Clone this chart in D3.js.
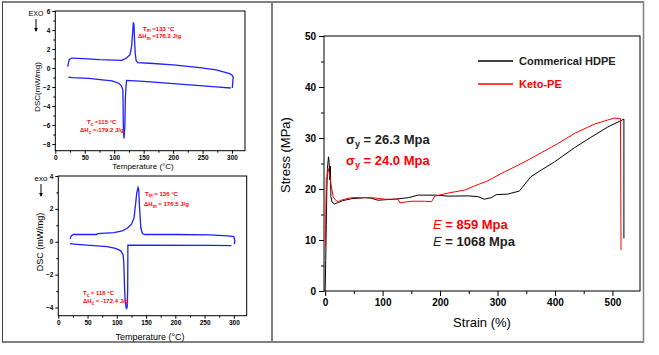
<!DOCTYPE html>
<html><head><meta charset="utf-8">
<script src="https://cdn.jsdelivr.net/npm/d3@7"></script>
<style>body{margin:0;background:#fff}svg{display:block}</style>
</head><body>
<svg id="c" width="659" height="355"></svg>
<script>
// ---- Tensile data (strain %, stress MPa)
const hdpeCurve = [[0,0],[1,6],[2,13],[3,20],[4,24],[5.8,26.3],[7,25.2],[8,21.8],[9,24.5],[10,18.5],[12,17.4],[16,17.1],[22,17.3],[30,17.7],[46,18.1],[70,18.3],[80,18.2],[92,17.8],[105,17.9],[121,18.0],[145,18.3],[162,18.8],[191,18.8],[214,18.6],[249,18.65],[266,18.5],[277,18.0],[289,18.3],[298,18.9],[318,19.0],[338,19.6],[358,22.4],[376,23.7],[399,25.3],[434,28.1],[462,30.1],[491,32.1],[520,33.7],[520,10.3]];
const ketoCurve = [[0.5,8.6],[1,15],[2,22.2],[3,22.4],[5.5,24.0],[7,23.2],[10,21.0],[14,18.5],[18,17.8],[23,17.5],[30,17.9],[46,18.3],[81,18.3],[104,18.0],[127,18.0],[130,17.3],[150,17.6],[173,17.6],[185,17.5],[191,18.6],[214,19.2],[243,19.8],[260,20.6],[283,21.6],[306,23.0],[347,25.3],[376,27.1],[405,28.9],[434,30.9],[457,32.1],[468,32.7],[491,33.5],[503,33.9],[514,33.8],[515,8.0]];
const seriesNames = ["Commerical HDPE","Keto-PE"];
const strainTicks = [0,100,200,300,400,500];
const stressTicks = [0,10,20,30,40,50];

// ---- DSC data (temperature °C, DSC mW/mg)
const dsc1Heat = [[21,0.14],[23.7,0.9],[27.7,1.05],[47.9,0.98],[75,0.88],[112.7,0.81],[121,1.05],[126.8,1.4],[129.6,2.3],[131.3,3.7],[132.5,4.8],[133.5,4.6],[134.5,3.0],[135.6,1.6],[137.3,0.74],[140,0.56],[160,0.5],[200,0.33],[245,0.05],[273,-0.2],[296,-0.6],[300,-0.75],[302,-0.95],[301,-1.6],[300.5,-2.1]];
const dsc1Cool = [[297.7,-2.1],[278,-2.0],[245,-1.85],[189,-1.6],[150,-1.4],[121,-1.3],[120,-2.0],[119,-3.1],[118,-6.2],[116.6,-7.4],[115.5,-6.2],[115,-3.5],[114.6,-2.3],[112,-1.85],[107.6,-1.6],[96.5,-1.35],[79.5,-1.25],[57,-1.1],[29,-1.0],[22,-0.95]];
const dsc2Heat = [[20.1,0.16],[22,0.36],[26,0.44],[66,0.44],[67,0.5],[95,0.55],[109.3,0.66],[118,0.82],[124.8,1.05],[129.4,1.45],[132,2.25],[134,2.96],[136.3,3.3],[137.5,3.16],[138.6,2.25],[141,0.85],[143.7,0.5],[147.8,0.44],[200,0.44],[258.7,0.42],[290,0.36],[300,0.32],[301.8,0.06],[300.6,-0.14]];
const dsc2Cool = [[296,-0.24],[260,-0.22],[118.9,-0.2],[118.9,-0.54],[118.6,-2.9],[117.8,-3.95],[116.5,-4.1],[114.5,-3.7],[113.3,-2.9],[112,-1.3],[110.9,-0.8],[106.4,-0.54],[97.8,-0.4],[83.4,-0.3],[48.9,-0.2],[26,-0.14],[20,-0.12]];
const tempTicks = [0,50,100,150,200,250,300];
const dsc1Ticks = [6,4,2,0,-2,-4,-6,-8];
const dsc2Ticks = [4,2,0,-2,-4];

const svg = d3.select("#c");
const F = "Arial, 'Liberation Sans', sans-serif";

// ---- outer frame
const frame = svg.append("g");
frame.append("line").attr("x1",2).attr("x2",644).attr("y1",2).attr("y2",2).attr("stroke","#808080").attr("stroke-width",2);
frame.append("line").attr("x1",2).attr("x2",644).attr("y1",342).attr("y2",342).attr("stroke","#808080").attr("stroke-width",2);
frame.append("line").attr("x1",2.5).attr("x2",2.5).attr("y1",2).attr("y2",342).attr("stroke","#404040").attr("stroke-width",1);
frame.append("line").attr("x1",643.5).attr("x2",643.5).attr("y1",2).attr("y2",342).attr("stroke","#808080").attr("stroke-width",1.5);
frame.append("line").attr("x1",272).attr("x2",272).attr("y1",2).attr("y2",342).attr("stroke","#808080").attr("stroke-width",2);

function boxAxes(g, x, y, xt, xMinor, yt, yMinor, fs, tl, tlm, xpad, ypad) {
  const [x0,x1] = x.range(), [y0,y1] = y.range();
  g.append("rect").attr("x",x0).attr("y",y1).attr("width",x1-x0).attr("height",y0-y1)
    .attr("fill","none").attr("stroke","#000").attr("stroke-width",1);
  const xa = d3.axisBottom(x).tickValues(xt).tickSize(tl).tickPadding(xpad).tickFormat(d3.format("d"));
  const xm = d3.axisBottom(x).tickValues(xMinor).tickSize(tlm).tickFormat("");
  const ya = d3.axisLeft(y).tickValues(yt).tickSize(tl).tickPadding(ypad).tickFormat(d3.format("d"));
  const ym = d3.axisLeft(y).tickValues(yMinor).tickSize(tlm).tickFormat("");
  [ [xa,`translate(0,${y0})`], [xm,`translate(0,${y0})`], [ya,`translate(${x0},0)`], [ym,`translate(${x0},0)`] ].forEach(([a,t])=>{
    const ag = g.append("g").attr("transform",t).call(a);
    ag.select(".domain").remove();
    ag.selectAll("line").attr("stroke","#000");
    ag.selectAll("text").attr("font-family",F).attr("font-weight","bold").attr("font-size",fs).attr("fill","#000");
  });
}

// ================= Right: tensile chart
const xs = d3.scaleLinear().domain([-2,548]).range([324,640]);
const ys = d3.scaleLinear().domain([0,50]).range([291,36]);
const gR = svg.append("g");
boxAxes(gR, xs, ys, strainTicks, [50,150,250,350,450], stressTicks, [5,15,25,35,45], 10, 5, 3, 3, 3);
const line = d3.line().x(d=>xs(d[0])).y(d=>ys(d[1]));
gR.append("path").datum(hdpeCurve).attr("d",line).attr("fill","none").attr("stroke","#000").attr("stroke-width",1);
gR.append("path").datum(ketoCurve).attr("d",line).attr("fill","none").attr("stroke","#ff0000").attr("stroke-width",1);
gR.append("text").attr("x",482).attr("y",327).attr("text-anchor","middle").attr("font-family",F).attr("font-size",13).text("Strain (%)");
gR.append("text").attr("transform","translate(290,155) rotate(-90)").attr("text-anchor","middle").attr("font-family",F).attr("font-size",13).text("Stress (MPa)");
// legend
const legCols = ["#000","#ff0000"];
seriesNames.forEach((n,i)=>{
  const yy = 61 + i*23;
  gR.append("line").attr("x1",478).attr("x2",513).attr("y1",yy).attr("y2",yy).attr("stroke",legCols[i]).attr("stroke-width",1.3);
  gR.append("text").attr("x",519).attr("y",yy+4).attr("font-family",F).attr("font-weight","bold").attr("font-size",11).attr("fill",i?"#ff0000":"#222").text(n);
});
// annotations
function sigma(x,y,col,val){
  const t = gR.append("text").attr("x",x).attr("y",y).attr("font-family",F).attr("font-weight","bold").attr("font-size",13).attr("fill",col);
  t.append("tspan").text("σ");
  t.append("tspan").attr("font-size",9).attr("dy",3).text("y");
  t.append("tspan").attr("dy",-3).text(" = "+val+" Mpa");
}
sigma(346,144,"#222","26.3");
sigma(346,165,"#ff0000","24.0");
function emod(x,y,col,val){
  const t = gR.append("text").attr("x",x).attr("y",y).attr("font-family",F).attr("font-weight","bold").attr("font-size",13).attr("fill",col);
  t.append("tspan").attr("font-style","italic").attr("font-weight","normal").text("E");
  t.append("tspan").text(" = "+val+" Mpa");
}
emod(433,229,"#ff0000","859");
emod(433,246,"#222","1068");

// ================= Left: DSC charts
const blue = "#1f1fff";
function dscChart(xr, yr, yd, yt, heat, cool, ann, titles) {
  const x = d3.scaleLinear().domain([0,322]).range(xr);
  const y = d3.scaleLinear().domain(yd).range(yr);
  const g = svg.append("g");
  const yMinor = d3.range(Math.ceil(yd[0]), Math.floor(yd[1])+1).filter(v=>v%2!==0);
  boxAxes(g, x, y, tempTicks, [25,75,125,175,225,275], yt, yMinor, 6.5, 3, 2, 2, 2);
  const ln = d3.line().x(d=>x(d[0])).y(d=>y(d[1]));
  g.append("path").datum(heat).attr("d",ln).attr("fill","none").attr("stroke",blue).attr("stroke-width",1.3);
  g.append("path").datum(cool).attr("d",ln).attr("fill","none").attr("stroke",blue).attr("stroke-width",1.3);
  ann.forEach(a=>{
    const t = g.append("text").attr("x",a.x).attr("y",a.y).attr("font-family",F).attr("font-weight","bold").attr("font-size",6).attr("fill","#ff0000");
    t.append("tspan").text(a.a);
    t.append("tspan").attr("font-size",4.5).attr("dy",1.5).text(a.s);
    t.append("tspan").attr("dy",-1.5).text(a.b);
  });
  g.append("text").attr("x",titles.xx).attr("y",titles.xy).attr("text-anchor","middle").attr("font-family",F).attr("font-size",titles.fs).text("Temperature (°C)");
  g.append("text").attr("transform",`translate(${titles.yx},${titles.yy}) rotate(-90)`).attr("text-anchor","middle").attr("font-family",F).attr("font-size",titles.fs).text(titles.yl);
  g.append("text").attr("x",titles.ex).attr("y",titles.ey).attr("text-anchor","middle").attr("font-family",F).attr("font-size",titles.fs-1).text(titles.exo);
  g.append("line").attr("x1",titles.ex).attr("x2",titles.ex).attr("y1",titles.ey+3).attr("y2",titles.ey+15).attr("stroke","#000").attr("stroke-width",1);
  g.append("path").attr("d",`M${titles.ex-1.8},${titles.ey+12} L${titles.ex+1.8},${titles.ey+12} L${titles.ex},${titles.ey+16} Z`).attr("fill","#000");
}
dscChart([55.3,245],[150.7,11],[-8.7,6],dsc1Ticks,dsc1Heat,dsc1Cool,[
  {x:143,y:30.5,a:"T",s:"m",b:" =133 °C"},
  {x:138,y:38,a:"ΔH",s:"m",b:" =176.2 J/g"},
  {x:87,y:124,a:"T",s:"c",b:" =115 °C"},
  {x:80,y:132,a:"ΔH",s:"c",b:" =-179.2 J/g"}],
  {xx:143,xy:169,yx:40,yy:87,fs:8,yl:"DSC(mW/mg)",ex:36,ey:16,exo:"EXO"});
dscChart([58.3,246.7],[315.7,176],[-4.5,4],dsc2Ticks,dsc2Heat,dsc2Cool,[
  {x:145,y:195.5,a:"T",s:"m",b:" = 136 °C"},
  {x:144,y:206,a:"ΔH",s:"m",b:" = 176.5 J/g"},
  {x:83,y:295,a:"T",s:"c",b:" = 116 °C"},
  {x:83,y:303,a:"ΔH",s:"c",b:" = -172.4 J/g"}],
  {xx:150,xy:340,yx:43,yy:242,fs:9,yl:"DSC (mW/mg)",ex:41,ey:181,exo:"exo"});
</script>
</body></html>
